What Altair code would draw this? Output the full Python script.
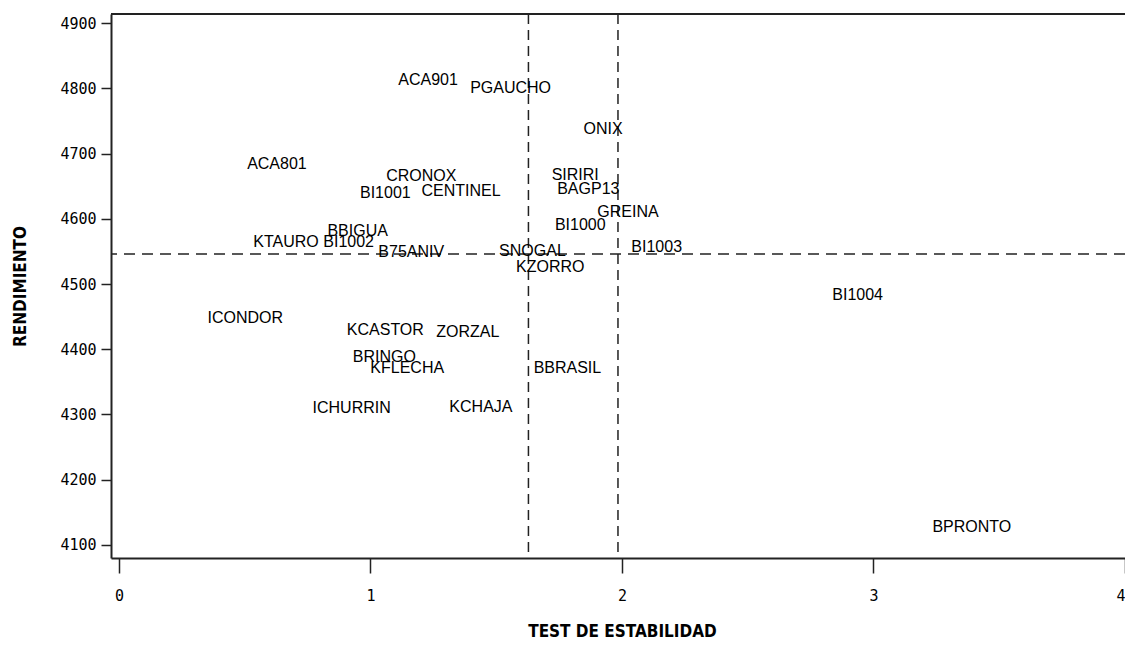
import altair as alt
import pandas as pd

names = ["ACA901", "PGAUCHO", "ONIX", "ACA801", "CRONOX", "BI1001", "CENTINEL",
         "SIRIRI", "BAGP13", "GREINA", "BI1000", "BBIGUA", "KTAURO", "BI1002",
         "B75ANIV", "SNOGAL", "KZORRO", "BI1003", "ICONDOR", "KCASTOR", "ZORZAL",
         "BRINGO", "KFLECHA", "BBRASIL", "ICHURRIN", "KCHAJA", "BI1004", "BPRONTO"]
estabilidad = [1.229, 1.557, 1.925, 0.628, 1.202, 1.059, 1.360,
               1.814, 1.866, 2.024, 1.834, 0.949, 0.664, 0.913,
               1.162, 1.644, 1.715, 2.138, 0.502, 1.059, 1.387,
               1.055, 1.146, 1.783, 0.925, 1.439, 2.937, 3.391]
rendimiento = [4813, 4800, 4738, 4684, 4666, 4639, 4642,
               4667, 4646, 4610, 4590, 4581, 4564, 4564,
               4549, 4551, 4526, 4557, 4448, 4429, 4426,
               4388, 4371, 4371, 4310, 4311, 4483, 4128]

vlines = [1.628, 1.984]
hlines = [4546]

x_ticks = [0, 1, 2, 3, 4]
y_ticks = [4100, 4200, 4300, 4400, 4500, 4600, 4700, 4800, 4900]
x_dom = [-0.0318, 4.0]
y_dom = [4080, 4914]

W, H = 1014, 544

df = pd.DataFrame({"name": names, "x": estabilidad, "y": rendimiento})
dv = pd.DataFrame({"v": vlines})
dh = pd.DataFrame({"h": hlines})

xs = alt.Scale(domain=x_dom, nice=False, zero=False)
ys = alt.Scale(domain=y_dom, nice=False, zero=False)

x_axis = alt.Axis(values=x_ticks, title="TEST DE ESTABILIDAD", grid=False,
                  tickSize=15, labelPadding=15, labelFont="DejaVu Sans Mono",
                  labelFontSize=15, labelColor="#000", tickColor="#222", tickWidth=1.5,
                  domainColor="#222", domainWidth=2,
                  titleFont="DejaVu Sans Condensed", titleFontSize=17, titleFontWeight="bold",
                  titleColor="#000", titleX=511, titleY=73, titleBaseline="middle",
                  format="d")
y_axis = alt.Axis(values=y_ticks, title="RENDIMIENTO", grid=False,
                  tickSize=10, labelPadding=5, labelFont="DejaVu Sans Mono",
                  labelFontSize=15, labelColor="#000", tickColor="#222", tickWidth=1.5,
                  domainColor="#222", domainWidth=2,
                  titleFont="DejaVu Sans Condensed", titleFontSize=17, titleFontWeight="bold",
                  titleColor="#000", titleX=-91, titleY=H / 2, titleBaseline="middle",
                  format="d")

labels = alt.Chart(df).mark_text(font="Liberation Sans", fontSize=16, color="#000",
                                 align="center", baseline="middle").encode(
    x=alt.X("x:Q", scale=xs, axis=x_axis),
    y=alt.Y("y:Q", scale=ys, axis=y_axis),
    text="name:N",
)

vrules = alt.Chart(dv).mark_rule(color="#222", strokeWidth=1.5, strokeDash=[10, 6]).encode(
    x=alt.X("v:Q", scale=xs)
)
hrules = alt.Chart(dh).mark_rule(color="#222", strokeWidth=1.5, strokeDash=[11, 7]).encode(
    y=alt.Y("h:Q", scale=ys)
)
top = alt.Chart(dh).mark_rule(color="#222", strokeWidth=2).encode(
    y=alt.datum(y_dom[1], scale=ys)
)

chart = alt.layer(vrules, hrules, top, labels).properties(
    width=W, height=H,
    autosize=alt.AutoSizeParams(type="none"),
    padding={"left": 103, "top": 6, "right": 0, "bottom": 85},
    background="white",
).configure_view(stroke=None)

chart.save("out.html", embed_options={"renderer": "svg", "actions": False})
